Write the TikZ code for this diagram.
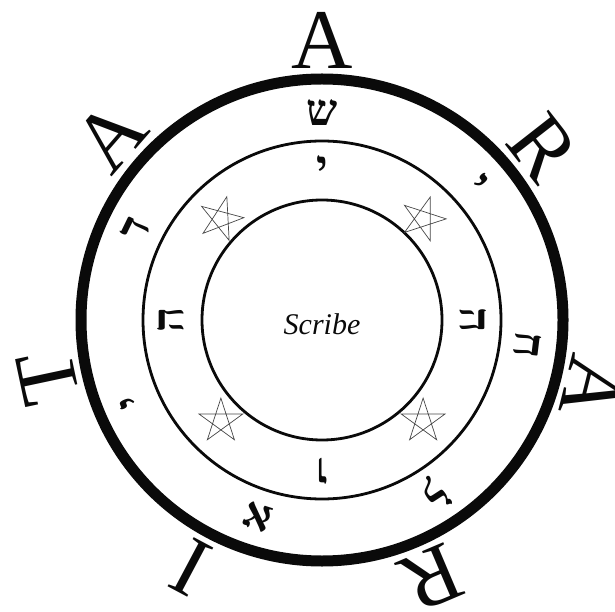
\documentclass[tikz,border=0pt]{standalone}
\usepackage{fontspec}
\setmainfont{Liberation Serif}
\newfontfamily\hebfont[Script=Hebrew]{Liberation Serif}
\usetikzlibrary{calc}
\definecolor{ink}{RGB}{10,10,10}
\definecolor{penta}{RGB}{70,70,70}
\tikzset{
  ring/.style={draw=ink},
  biglet/.style={font=\fontsize{85}{85}\selectfont,inner sep=0pt,text=ink},
  heb/.style={font=\hebfont\bfseries\fontsize{44}{44}\selectfont,inner sep=0pt,text=ink},
  pentline/.style={draw=penta,line width=0.7pt,line join=miter},
}

\begin{document}
\begin{tikzpicture}[x=1pt,y=1pt]
  \useasboundingbox (0,0) rectangle (615,611);
  \coordinate (c) at (322,291);
  \begin{scope}[shift={(c)}]
    % the three rings
    \draw[ring,line width=11pt] (0,0) circle[radius=241pt];
    \draw[ring,line width=2.8pt] (0,0) circle[radius=179pt];
    \draw[ring,line width=2.8pt] (0,0) circle[radius=120pt];
    \node[font=\itshape\fontsize{30}{30}\selectfont,text=ink] (scribe) at (0,-4) {Scribe};
    % ARARITA outside
    \foreach \ang/\ch [count=\i] in {90/A,38/R,-14/A,-67/R,-118/I,-168/T,139/A} {
      \node[biglet,rotate=\ang-90] (out\i) at (\ang:280pt) {\ch};
    }
    % name in the outer band
    \foreach \ang/\ch [count=\i] in {90/ש,41/י,-7/ח,-57/ל,-108/א,-157/י,154/ד} {
      \node[heb,rotate=\ang-90] (band\i) at (\ang:207pt) {\ch};
    }
    % tetragrammaton in the inner band
    \foreach \ang/\ch [count=\i] in {90/י,0/ה,-90/ו,180/ה} {
      \node[heb,rotate=\ang-90] (tet\i) at (\ang:151pt) {\ch};
    }
    % pentagrams
    \foreach \ang/\tilt in {45/-18,135/-15,225/0,315/0} {
      \begin{scope}[shift={(\ang:143pt)},rotate=\tilt]
        \draw[pentline] (90:23pt) -- (234:23pt) -- (18:23pt) -- (162:23pt) -- (306:23pt) -- cycle;
      \end{scope}
    }
  \end{scope}
\end{tikzpicture}
\end{document}
